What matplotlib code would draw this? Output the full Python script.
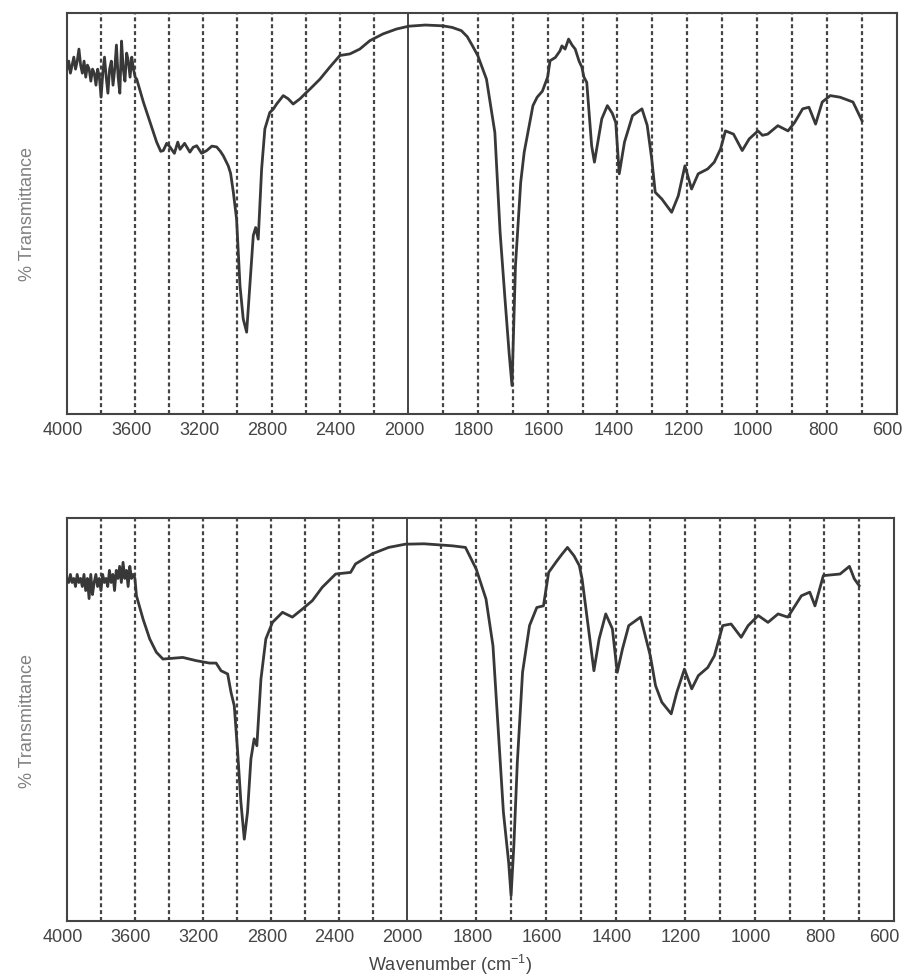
import numpy as np
import matplotlib
matplotlib.use("Agg")
import matplotlib.pyplot as plt
from matplotlib.transforms import ScaledTranslation

plt.rcParams['font.family'] = ['Liberation Sans', 'DejaVu Sans']
plt.rcParams['mathtext.default'] = 'regular'

# --- dados lidos do espectro (numero de onda em cm-1, % transmitancia) ---
# regiao ruidosa 4000-3600 (espectro de cima)
ruido_cima_wn = [4000, 3990, 3980, 3970, 3960, 3950, 3940, 3930, 3920, 3910,
                 3900, 3890, 3880, 3870, 3860, 3850, 3840, 3830, 3820, 3810,
                 3800, 3790, 3780, 3770, 3760, 3750, 3740, 3730, 3720, 3710,
                 3700, 3690, 3680, 3670, 3660, 3650, 3640, 3630, 3620, 3610, 3600]
ruido_cima_t = [86, 88, 85, 87, 89, 86, 88, 91, 87, 85,
                88, 84, 87, 86, 83, 86, 85, 82, 86, 84,
                79, 85, 89, 84, 80, 86, 88, 82, 86, 92,
                84, 80, 93, 86, 83, 90, 88, 84, 89, 86, 84]

cima_wn = [3591, 3552, 3513, 3474, 3450, 3435, 3415, 3396, 3370, 3350, 3337, 3310,
           3279, 3260, 3239, 3210, 3180, 3150, 3122, 3100, 3083, 3054, 3040, 3024,
           3005, 2985, 2966, 2946, 2927, 2907, 2893, 2878, 2858, 2839, 2810, 2790,
           2770, 2731, 2702, 2673, 2633, 2600, 2575, 2516, 2458, 2399, 2340, 2282,
           2223, 2145, 2067, 1998, 1950, 1900, 1873, 1847, 1830, 1815, 1800, 1775,
           1751, 1736, 1722, 1710, 1702, 1692, 1677, 1667, 1642, 1630, 1615, 1600,
           1593, 1578, 1565, 1559, 1550, 1540, 1530, 1521, 1510, 1502, 1496, 1488,
           1474, 1466, 1445, 1429, 1415, 1405, 1395, 1380, 1357, 1330, 1315, 1302,
           1292, 1273, 1245, 1226, 1207, 1188, 1169, 1142, 1123, 1105, 1091, 1068,
           1043, 1023, 998, 985, 970, 941, 912, 893, 870, 852, 833, 814,
           791, 763, 726, 700]
cima_t = [83.5, 77.8, 72.8, 67.8, 65.5, 65.7, 67.5, 66.6, 65.0, 67.8, 66.0, 67.5,
          65.3, 66.5, 66.9, 65.0, 65.7, 66.8, 66.6, 65.5, 64.4, 61.9, 60.0, 55.3,
          48.6, 32.0, 23.7, 20.4, 32.0, 44.5, 46.5, 43.6, 61.1, 71.1, 75.2, 76.0,
          77.3, 79.4, 78.6, 77.3, 78.6, 80.0, 81.0, 83.5, 86.5, 89.4, 89.8, 91.0,
          93.1, 94.8, 96.0, 96.7, 97.0, 96.8, 96.4, 95.6, 94.1, 91.8, 89.4, 83.5,
          70.2, 45.3, 28.7, 15.0, 7.1, 37.0, 57.8, 65.3, 76.9, 79.0, 80.5, 84.0,
          88.1, 88.9, 90.5, 91.8, 91.0, 93.5, 92.0, 91.0, 88.0, 86.5, 84.0, 82.7,
          66.9, 62.8, 73.6, 76.9, 75.0, 72.7, 59.9, 67.8, 74.4, 76.1, 72.0, 63.6,
          55.3, 53.6, 50.3, 54.4, 61.9, 56.1, 59.9, 61.1, 62.8, 66.1, 70.6, 69.8,
          65.7, 68.6, 70.6, 69.5, 69.8, 71.9, 70.6, 72.7, 76.1, 76.5, 72.3, 77.8,
          79.4, 79.0, 77.8, 73.1]

# regiao ruidosa 4000-3600 (espectro de baixo)
ruido_baixo_wn = ruido_cima_wn
ruido_baixo_t = [85, 84, 86, 84, 85, 83, 86, 84, 85, 83,
                 86, 82, 85, 80, 86, 81, 84, 86, 83, 85,
                 82, 86, 84, 85, 83, 87, 84, 86, 82, 87,
                 85, 88, 84, 89, 85, 87, 83, 88, 85, 86, 85]

baixo_wn = [3591, 3552, 3513, 3474, 3435, 3377, 3318, 3239, 3161, 3122, 3093, 3054,
            3034, 3015, 2995, 2976, 2956, 2937, 2917, 2898, 2882, 2858, 2829, 2790,
            2731, 2673, 2614, 2555, 2497, 2418, 2330, 2301, 2203, 2106, 2008, 1950,
            1900, 1869, 1831, 1800, 1772, 1752, 1737, 1722, 1707, 1700, 1692, 1682,
            1667, 1647, 1626, 1607, 1592, 1568, 1553, 1538, 1519, 1504, 1496, 1481,
            1462, 1447, 1428, 1409, 1395, 1380, 1362, 1328, 1300, 1285, 1267, 1240,
            1224, 1202, 1181, 1162, 1135, 1116, 1092, 1068, 1039, 1019, 990, 962,
            933, 905, 866, 842, 827, 803, 755, 728, 714, 700]
baixo_t = [80.7, 74.9, 70.0, 66.7, 65.0, 65.2, 65.4, 64.6, 64.0, 64.0, 62.1, 61.3,
           56.7, 53.4, 41.9, 29.5, 20.3, 27.0, 40.2, 45.2, 43.5, 60.0, 70.0, 74.1,
           76.6, 75.4, 77.4, 79.5, 82.8, 86.1, 86.5, 88.6, 91.1, 92.7, 93.5, 93.6,
           93.3, 93.1, 92.7, 87.3, 79.9, 68.3, 47.6, 27.0, 14.6, 6.3, 18.7, 39.4,
           61.7, 73.3, 77.8, 78.2, 86.5, 89.4, 91.1, 92.7, 90.6, 88.2, 84.9, 74.9,
           62.1, 70.0, 76.2, 72.5, 61.7, 67.5, 73.3, 75.4, 65.8, 58.4, 54.3, 51.4,
           56.7, 62.5, 57.6, 60.9, 62.9, 65.8, 73.3, 73.7, 70.4, 73.3, 75.8, 74.1,
           76.2, 75.4, 80.7, 81.6, 78.2, 85.7, 86.1, 88.0, 84.9, 83.2]

rotulos_x = [4000, 3600, 3200, 2800, 2400, 2000, 1800, 1600, 1400, 1200, 1000, 800, 600]
grade_x = [3800, 3600, 3400, 3200, 3000, 2800, 2600, 2400, 2200,
           1900, 1800, 1700, 1600, 1500, 1400, 1300, 1200, 1100, 1000, 900, 800, 700]

COR = '#383838'
FATOR = 2.05  # abaixo de 2000 cm-1 a escala e expandida


def escala_ida(x):
    x = np.asarray(x, dtype=float)
    return np.where(x >= 2000, x - 2000, (x - 2000) * FATOR)


def escala_volta(u):
    u = np.asarray(u, dtype=float)
    return np.where(u >= 0, u + 2000, u / FATOR + 2000)


def desenhar_painel(ax, wn, t):
    ax.set_xscale('function', functions=(escala_ida, escala_volta))
    for g in grade_x:
        ax.axvline(g, color='#444444', lw=1.6, linestyle=(0, (1.8, 1.3)), zorder=1)
    ax.axvline(2000, color='#444444', lw=1.4, zorder=1)
    ax.plot(wn, t, color=COR, lw=2.0, zorder=3)
    ax.set_xlim(4000, 600)
    ax.set_ylim(0, 100)
    ax.set_xticks(rotulos_x)
    ax.set_xticklabels([str(v) for v in rotulos_x])
    ax.set_yticks([])
    ax.tick_params(axis='x', length=0, pad=5, labelsize=13, labelcolor='#444444')
    # rotulos do original ficam um pouco deslocados para a esquerda
    rotulos = ax.get_xticklabels()
    for i, lbl in enumerate(rotulos):
        dx = -10 if i == len(rotulos) - 1 else -4
        lbl.set_transform(lbl.get_transform() + ScaledTranslation(dx / 100, 0, fig.dpi_scale_trans))
    for s in ax.spines.values():
        s.set_color('#444444')
        s.set_linewidth(1.5)
    ax.set_ylabel('% Transmittance', fontsize=13, color='#808080', labelpad=22)


fig = plt.figure(figsize=(9.07, 9.78), dpi=100)
ax1 = fig.add_axes([67 / 907, 1 - 415 / 978, 830 / 907, 401 / 978])
ax2 = fig.add_axes([67 / 907, 1 - 922 / 978, 827 / 907, 403 / 978])

desenhar_painel(ax1, ruido_cima_wn + cima_wn, ruido_cima_t + cima_t)
desenhar_painel(ax2, ruido_baixo_wn + baixo_wn, ruido_baixo_t + baixo_t)

fig.text(450 / 907, 1 - 965 / 978, 'Wavenumber (cm$^{-1}$)', ha='center', va='center',
         fontsize=13, color='#444444')

fig.savefig('out.png', dpi=100)
